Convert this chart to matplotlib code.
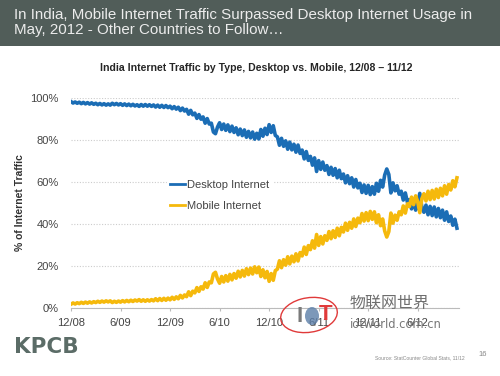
import numpy as np
import matplotlib
matplotlib.use("Agg")
import matplotlib.pyplot as plt
from matplotlib.patches import Ellipse, Rectangle

# --------------------------------------------------------------------------- #
# Data (~weekly, 4 points per month from 12/08)
# --------------------------------------------------------------------------- #
TITLE = ("In India, Mobile Internet Traffic Surpassed Desktop Internet Usage in\n"
         "May, 2012 - Other Countries to Follow\u2026")
SUBTITLE = "India Internet Traffic by Type, Desktop vs. Mobile, 12/08 \u2013 11/12"

tick_months = [0, 6, 12, 18, 24, 30, 36, 42]
tick_labels = ["12/08", "6/09", "12/09", "6/10", "12/10", "6/11", "12/11", "6/12"]

desktop = [
    98.3, 97.6, 98.1, 97.5,  98.0, 97.3, 97.9, 97.2,  97.8, 97.1, 97.7, 97.0,
    97.5, 96.8, 97.4, 96.7,  97.3, 96.6, 97.2, 96.6,  97.5, 96.8, 97.4, 96.7,
    97.3, 96.5, 97.2, 96.4,  97.1, 96.3, 97.0, 96.2,  96.8, 96.0, 96.9, 96.1,
    96.9, 96.1, 96.8, 96.0,  96.7, 95.7, 96.6, 95.6,  96.5, 95.5, 96.4, 95.4,
    96.1, 94.9, 95.9, 94.7,  95.6, 94.0, 95.2, 93.8,  94.6, 92.3, 94.1, 92.0,
    92.8, 90.3, 92.1, 89.9,  91.0, 88.0, 90.2, 87.6,  88.0, 83.8, 83.0, 86.2,
    88.2, 85.0, 87.6, 84.6,  87.2, 84.0, 86.6, 83.6,  85.8, 82.5, 85.2, 82.1,
    84.8, 81.3, 84.1, 81.0,  83.8, 80.4, 83.2, 80.5,  85.0, 81.8, 85.6, 82.6,
    87.3, 83.6, 86.8, 82.2,  81.5, 77.5, 80.8, 77.0,  79.6, 75.6, 79.0, 75.3,
    78.0, 74.2, 77.6, 73.6,  75.2, 71.0, 74.5, 70.3,  72.2, 68.0, 71.5, 65.0,
    70.2, 66.0, 69.5, 65.6,  67.8, 63.6, 67.0, 63.2,  66.4, 62.0, 65.6, 61.6,
    63.8, 59.6, 63.0, 59.2,  62.0, 57.6, 61.2, 57.2,  59.4, 55.0, 58.6, 54.6,
    58.4, 54.0, 57.8, 54.2,  59.4, 55.6, 60.8, 57.6,  63.3, 66.2, 63.6, 54.8,
    59.6, 55.8, 58.2, 54.2,  55.6, 51.4, 54.8, 50.4,  51.6, 47.2, 50.8, 46.6,
    49.4, 54.6, 48.0, 45.6,  49.0, 44.4, 48.4, 44.0,  48.1, 43.4, 47.4, 43.0,
    46.6, 41.8, 45.8, 41.2,  43.8, 39.4, 42.3, 38.0,
]

mobile = [
    1.8, 2.4, 1.9, 2.5,  2.1, 2.7, 2.2, 2.8,  2.3, 2.9, 2.4, 3.0,
    2.6, 3.2, 2.7, 3.3,  2.8, 3.4, 2.9, 3.4,  2.6, 3.2, 2.7, 3.3,
    2.8, 3.5, 2.9, 3.6,  3.0, 3.7, 3.1, 3.8,  3.3, 4.0, 3.2, 3.9,
    3.2, 3.9, 3.3, 4.0,  3.4, 4.4, 3.5, 4.5,  3.6, 4.6, 3.7, 4.7,
    3.9, 5.1, 4.1, 5.3,  4.4, 6.0, 4.8, 6.2,  5.4, 7.7, 5.9, 8.0,
    7.2, 9.7, 7.9, 10.1,  9.0, 12.0, 9.8, 12.4,  12.0, 16.2, 17.0, 13.8,
    11.8, 15.0, 12.4, 15.4,  12.8, 16.0, 13.4, 16.4,  14.2, 17.5, 14.8, 17.9,
    15.2, 18.7, 15.9, 19.0,  16.2, 19.6, 16.8, 19.5,  15.0, 18.2, 14.4, 17.4,
    12.7, 16.4, 13.2, 17.8,  18.5, 22.5, 19.2, 23.0,  20.4, 24.4, 21.0, 24.7,
    22.0, 25.8, 22.4, 26.4,  24.8, 29.0, 25.5, 29.7,  27.8, 32.0, 28.5, 35.0,
    29.8, 34.0, 30.5, 34.4,  32.2, 36.4, 33.0, 36.8,  33.6, 38.0, 34.4, 38.4,
    36.2, 40.4, 37.0, 40.8,  38.0, 42.4, 38.8, 42.8,  40.6, 45.0, 41.4, 45.4,
    41.6, 46.0, 42.2, 45.8,  40.6, 44.4, 39.2, 42.4,  36.7, 33.8, 36.4, 45.2,
    40.4, 44.2, 41.8, 45.8,  44.4, 48.6, 45.2, 49.6,  48.4, 52.8, 49.2, 53.4,
    50.6, 45.4, 52.0, 54.4,  51.0, 55.6, 51.6, 56.0,  51.9, 56.6, 52.6, 57.0,
    53.4, 58.2, 54.2, 58.8,  56.2, 60.6, 57.7, 62.0,
]

# position in months since 12/08
months = np.arange(len(desktop)) / 4.0

BLUE = "#1b6db5"
GOLD = "#f5b90c"
HEADER = "#515d59"

# --------------------------------------------------------------------------- #
# Figure
# --------------------------------------------------------------------------- #
fig = plt.figure(figsize=(5.0, 3.76), dpi=100)
fig.patch.set_facecolor("white")

# header band
fig.patches.append(Rectangle((0, 1 - 46 / 376), 1, 46 / 376, transform=fig.transFigure,
                             facecolor=HEADER, edgecolor="none", zorder=0))
fig.text(14 / 500, 1 - 8 / 376, TITLE, ha="left", va="top", fontsize=10.9,
         color="#ececec", family="Liberation Sans", linespacing=1.05)
fig.text(256 / 500, 1 - 68 / 376, SUBTITLE, ha="center", va="center", fontsize=7.6,
         fontweight="bold", color="#262626", family="Liberation Sans")

ax = fig.add_axes([71 / 500, 1 - 308 / 376, 388 / 500, 210 / 376])
ax.plot(months, desktop, color=BLUE, lw=2.6, zorder=3, label="Desktop Internet")
ax.plot(months, mobile, color=GOLD, lw=2.6, zorder=3, label="Mobile Internet")

ax.set_xlim(0, 47)
ax.set_ylim(0, 100)
ax.set_xticks(tick_months)
ax.set_xticklabels(tick_labels)
ax.set_yticks([0, 20, 40, 60, 80, 100])
ax.set_yticklabels([f"{v}%" for v in [0, 20, 40, 60, 80, 100]])
ax.tick_params(axis="x", length=2, color="#bbbbbb", labelsize=8, labelcolor="#444444", pad=5)
ax.tick_params(axis="y", length=0, labelsize=8, labelcolor="#444444", pad=9)
for lab in ax.get_xticklabels() + ax.get_yticklabels():
    lab.set_family("Liberation Sans")

for s in ["top", "right", "left"]:
    ax.spines[s].set_visible(False)
ax.spines["bottom"].set_color("#bbbbbb")
ax.spines["bottom"].set_linewidth(0.8)
ax.yaxis.grid(True, color="#cccccc", linestyle=(0, (1, 1.5)), lw=0.8)
ax.set_axisbelow(True)

ax.set_ylabel("% of Internet Traffic", fontsize=7.5, fontweight="bold", color="#333333",
              family="Liberation Sans", labelpad=4)

leg = ax.legend(loc="center left", bbox_to_anchor=(0.233, 0.535), frameon=True,
                facecolor="white", edgecolor="white", framealpha=1, fancybox=False,
                handlelength=1.3, handletextpad=0.2, labelspacing=1.0,
                borderpad=0.3, prop={"family": "Liberation Sans", "size": 8})
for t in leg.get_texts():
    t.set_color("#444444")
for h in leg.legend_handles:
    h.set_linewidth(2.0)
leg.set_zorder(2)

# watermark
fig.patches.append(Ellipse((309 / 500, 1 - 315 / 376), 58 / 500, 34 / 376, angle=20,
                           transform=fig.transFigure, fill=False, edgecolor="#e03a3a",
                           lw=1.0, zorder=5))
fig.patches.append(Ellipse((312 / 500, 1 - 316 / 376), 14 / 500, 18 / 376,
                           transform=fig.transFigure, facecolor="#5b7ea8",
                           edgecolor="none", alpha=0.8, zorder=5))
fig.text(300 / 500, 1 - 316 / 376, "I", fontsize=16, fontweight="bold", color="#7a7a7a",
         ha="center", va="center", family="Liberation Sans")
fig.text(326 / 500, 1 - 314 / 376, "T", fontsize=16, fontweight="bold", color="#e03a3a",
         ha="center", va="center", family="Liberation Sans")
fig.text(350 / 500, 1 - 303 / 376, "物联网世界", fontsize=11.5, color="#6e6e6e",
         ha="left", va="center", family=["Noto Sans CJK SC", "DejaVu Sans"])
fig.text(350 / 500, 1 - 325 / 376, "iotworld.com.cn", fontsize=8.3, color="#777777",
         ha="left", va="center", family="DejaVu Sans")

# footer
fig.text(14 / 500, 1 - 347 / 376, "KPCB", fontsize=15.5, fontweight="bold", color="#5b6c67",
         ha="left", va="center", family="DejaVu Sans")
fig.text(465 / 500, 1 - 358 / 376, "Source: StatCounter Global Stats, 11/12", fontsize=3.6,
         color="#888888", ha="right", va="center", family="Liberation Sans")
fig.text(483 / 500, 1 - 355 / 376, "16", fontsize=5.5, color="#888888", ha="center",
         va="center", family="Liberation Sans")

fig.savefig("out.png", dpi=100)
